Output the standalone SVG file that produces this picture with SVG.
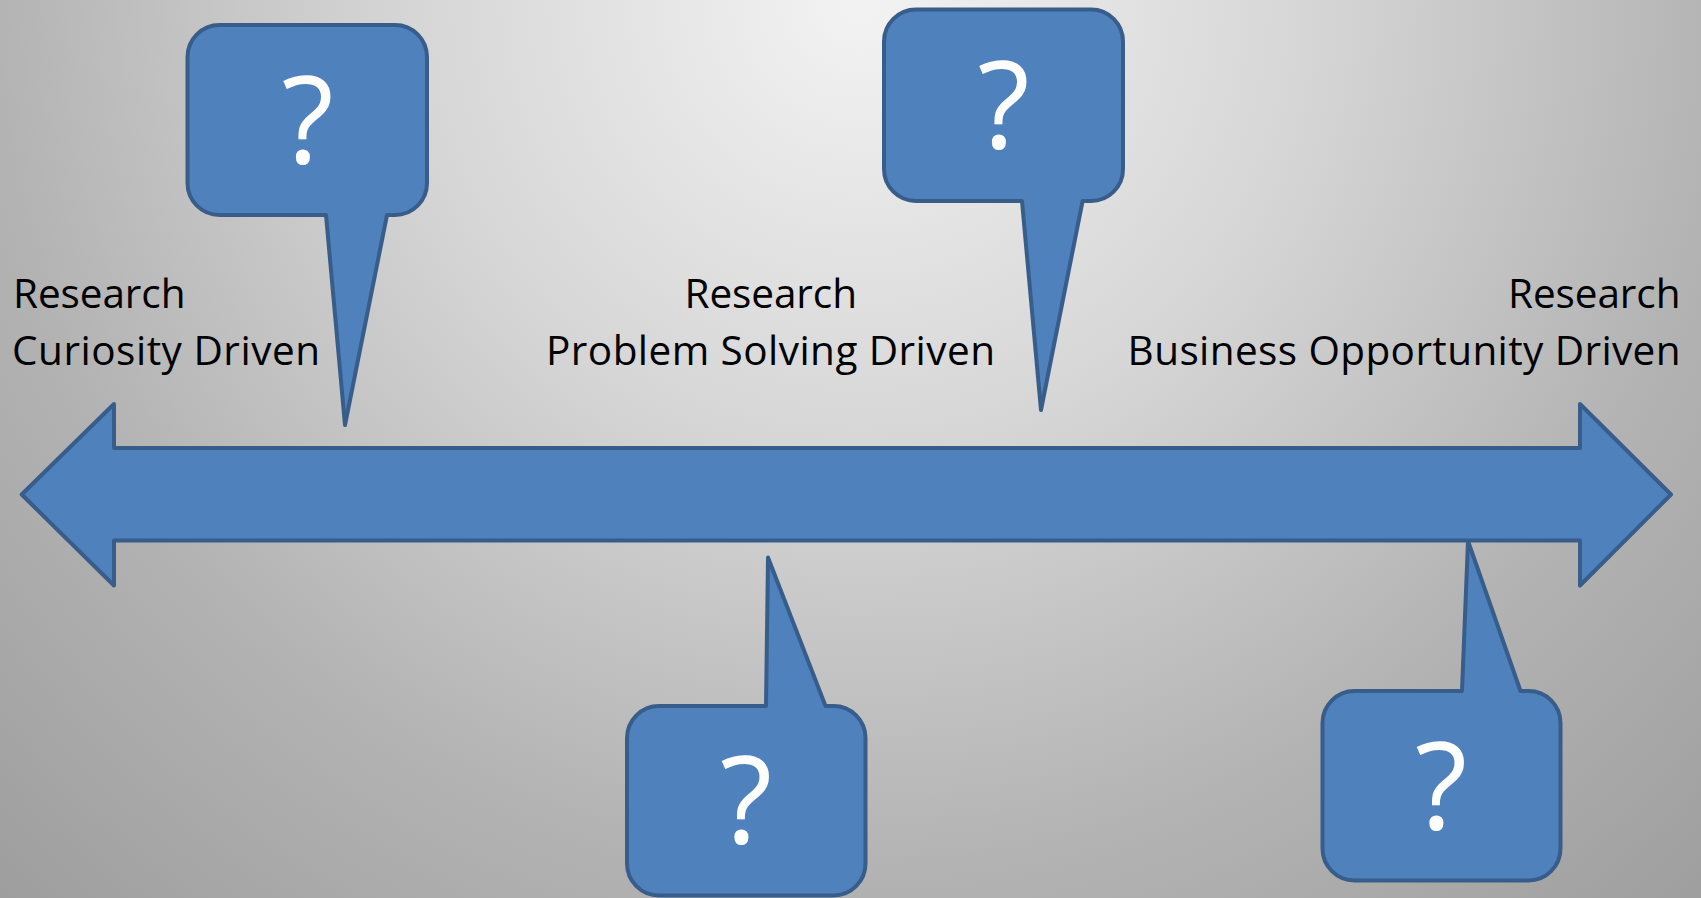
<svg xmlns="http://www.w3.org/2000/svg" width="1701" height="898" viewBox="0 0 1701 898">
  <defs>
    <radialGradient id="bg" gradientUnits="userSpaceOnUse" cx="860" cy="0" r="1240">
      <stop offset="0" stop-color="#f3f3f3"/>
      <stop offset="0.36" stop-color="#d6d6d6"/>
      <stop offset="0.7" stop-color="#b3b3b3"/>
      <stop offset="1" stop-color="#9e9e9e"/>
    </radialGradient>
  </defs>
  <style>
    .shape { fill: #4F81BD; stroke: #385D8A; stroke-width: 4; stroke-linejoin: round; }
    .q { fill: #ffffff; font-family: "Open Sans", "DejaVu Sans", sans-serif; font-size: 121px; text-anchor: middle; }
    .lbl { fill: #000000; font-family: "Open Sans", "DejaVu Sans", sans-serif; font-size: 40.5px; }
  </style>
  <rect x="0" y="0" width="1701" height="898" fill="url(#bg)"/>

  <g id="connectors">
    <polygon id="axis-arrow" class="shape" points="21.7,494.5 114,404 114,448 1580,448 1580,404 1671,494.5 1580,585.5 1580,540.5 114,540.5 114,585.5"/>
  </g>

  <g id="label-curiosity">
    <text class="lbl" x="13" y="308" textLength="172.5" lengthAdjust="spacing">Research</text>
    <text class="lbl" x="12" y="364.5" textLength="308" lengthAdjust="spacing">Curiosity Driven</text>
  </g>
  <g id="label-problem">
    <text class="lbl" x="684.5" y="308" textLength="172.5" lengthAdjust="spacing">Research</text>
    <text class="lbl" x="546" y="364.5" textLength="449" lengthAdjust="spacing">Problem Solving Driven</text>
  </g>
  <g id="label-business">
    <text class="lbl" x="1508" y="308" textLength="172.5" lengthAdjust="spacing">Research</text>
    <text class="lbl" x="1127.6" y="364.5" textLength="553" lengthAdjust="spacing">Business Opportunity Driven</text>
  </g>

  <g id="callout-1">
    <path class="shape" d="M 219.5 25 H 395 A 32 32 0 0 1 427 57 V 183 A 32 32 0 0 1 395 215 H 387 L 345 425 L 326 215 H 219.5 A 32 32 0 0 1 187.5 183 V 57 A 32 32 0 0 1 219.5 25 Z"/>
    <text class="q" x="307.5" y="163">?</text>
  </g>
  <g id="callout-2">
    <path class="shape" d="M 916 9.5 H 1091 A 32 32 0 0 1 1123 41.5 V 169 A 32 32 0 0 1 1091 201 H 1082.6 L 1041 410 L 1022 201 H 916 A 32 32 0 0 1 884 169 V 41.5 A 32 32 0 0 1 916 9.5 Z"/>
    <text class="q" x="1003.5" y="148">?</text>
  </g>
  <g id="callout-3">
    <path class="shape" d="M 659 706 H 766 L 768 557.5 L 825.5 706 H 833.5 A 32 32 0 0 1 865.5 738 V 863.5 A 32 32 0 0 1 833.5 895.5 H 659 A 32 32 0 0 1 627 863.5 V 738 A 32 32 0 0 1 659 706 Z"/>
    <text class="q" x="746" y="843">?</text>
  </g>
  <g id="callout-4">
    <path class="shape" d="M 1354.5 691 H 1462 L 1468 541 L 1520.5 691 H 1528.5 A 32 32 0 0 1 1560.5 723 V 848.5 A 32 32 0 0 1 1528.5 880.5 H 1354.5 A 32 32 0 0 1 1322.5 848.5 V 723 A 32 32 0 0 1 1354.5 691 Z"/>
    <text class="q" x="1441" y="828.5">?</text>
  </g>
</svg>
